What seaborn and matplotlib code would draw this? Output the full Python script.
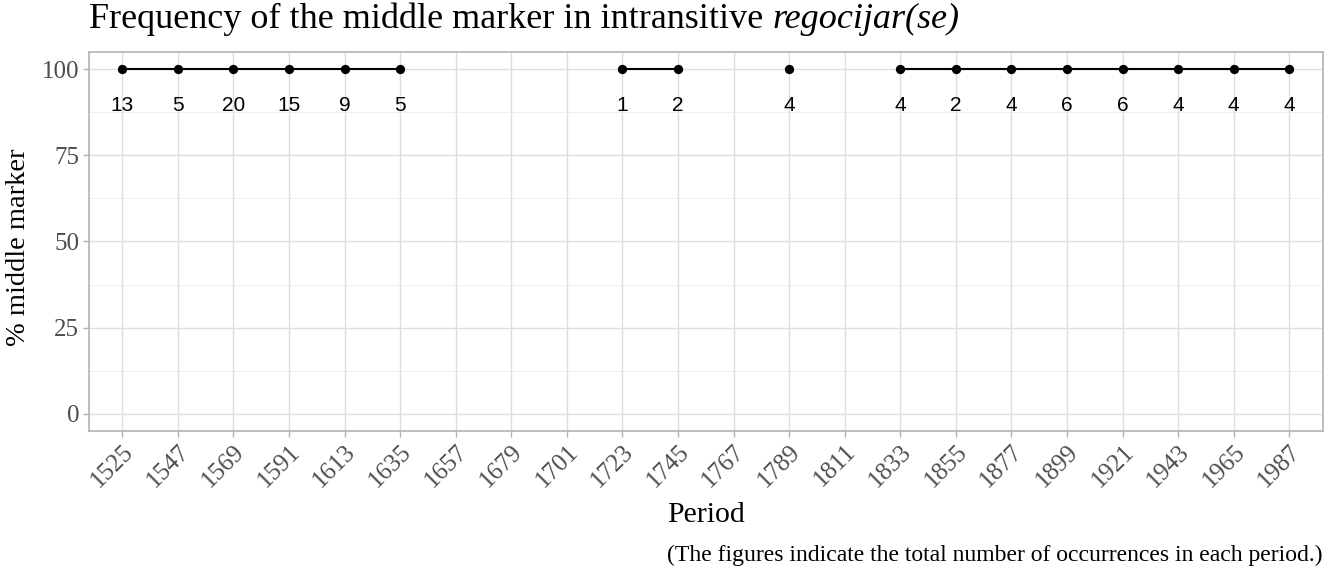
import numpy as np
import pandas as pd
import seaborn as sns
import matplotlib.pyplot as plt
from matplotlib.ticker import MultipleLocator

# data: periods, % middle marker, number of occurrences
periods = [1525, 1547, 1569, 1591, 1613, 1635, 1657, 1679, 1701, 1723, 1745,
           1767, 1789, 1811, 1833, 1855, 1877, 1899, 1921, 1943, 1965, 1987]
pct = [100, 100, 100, 100, 100, 100, np.nan, np.nan, np.nan, 100, 100,
       np.nan, 100, np.nan, 100, 100, 100, 100, 100, 100, 100, 100]
counts = [13, 5, 20, 15, 9, 5, np.nan, np.nan, np.nan, 1, 2,
          np.nan, 4, np.nan, 4, 2, 4, 6, 6, 4, 4, 4]

df = pd.DataFrame({'period': periods, 'pct': pct, 'n': counts})
# periods with no data break the line into separate runs
df['seg'] = df['pct'].isnull().cumsum()
dd = df.dropna()

sns.set_style("whitegrid")
plt.rcParams['font.family'] = ['Liberation Serif', 'DejaVu Serif']
plt.rcParams['text.color'] = 'black'

fig = plt.figure(figsize=(13.28, 5.68), dpi=100)
ax = fig.add_axes([0.067, 0.2412, 0.929, 0.6673])

sns.lineplot(data=dd, x='period', y='pct', units='seg', estimator=None,
             color='black', linewidth=1.5, ax=ax, legend=False)
sns.scatterplot(data=dd, x='period', y='pct', color='black', s=45,
                edgecolor='black', linewidth=0, ax=ax, legend=False, zorder=3)

for p, v, n in zip(dd['period'], dd['pct'], dd['n']):
    ax.annotate(str(int(n)), (p, v), xytext=(0, -19), textcoords='offset points',
                ha='center', va='top', fontsize=15, family='Liberation Sans',
                color='black')

step = periods[1] - periods[0]
ax.set_xlim(periods[0] - 0.6 * step, periods[-1] + 0.6 * step)
ax.set_ylim(-5, 105)
ax.set_xticks(periods)
ax.set_xticklabels([str(p) for p in periods], rotation=45, ha='right',
                   rotation_mode='anchor')
ax.set_yticks([0, 25, 50, 75, 100])
ax.yaxis.set_minor_locator(MultipleLocator(12.5))
ax.grid(which='major', color='#DEDEDE', linewidth=1.0)
ax.grid(which='minor', axis='y', color='#EBEBEB', linewidth=0.6)
ax.grid(which='minor', axis='x', visible=False)
ax.tick_params(axis='both', which='major', length=4, width=1, color='#B3B3B3',
               labelsize=18, labelcolor='#4D4D4D', pad=3, bottom=True, left=True)
ax.tick_params(which='minor', length=0)
for s in ax.spines.values():
    s.set_color('#B3B3B3')
    s.set_linewidth(1.2)
ax.set_xlabel('')
ax.set_ylabel('')

# title: plain part then italic verb
t1 = fig.text(0.067, 0.951, 'Frequency of the middle marker in intransitive ',
              fontsize=26, ha='left', va='baseline')
fig.canvas.draw()
bb = t1.get_window_extent().transformed(fig.transFigure.inverted())
fig.text(bb.x1, 0.951, 'regocijar(se)', fontsize=26, style='italic',
         ha='left', va='baseline')

fig.text(0.014, 0.565, '% middle marker', fontsize=20.5, rotation=90,
         ha='center', va='center')
fig.text(0.5316, 1 - 522 / 568, 'Period', fontsize=21.5, ha='center', va='baseline')
fig.text(0.9955, 0.012, '(The figures indicate the total number of occurrences in each period.)',
         fontsize=17, ha='right', va='baseline')

fig.savefig('out.png', dpi=100)
